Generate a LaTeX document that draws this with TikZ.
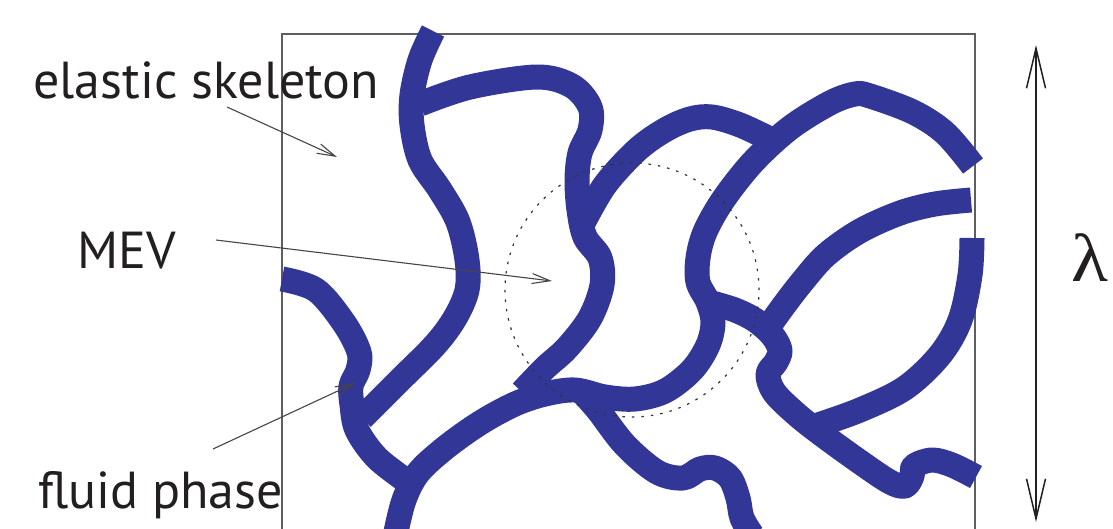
\documentclass[tikz,border=0pt]{standalone}
\usepackage{fontspec}
\newfontfamily\labelfont{PT Sans}
\newfontfamily\greekfont{Liberation Serif}
\usetikzlibrary{arrows.meta}
\definecolor{fibre}{RGB}{50,54,151}
\definecolor{ink}{RGB}{35,31,32}
\definecolor{leadgray}{RGB}{70,70,70}
\definecolor{framegray}{RGB}{95,95,95}
\begin{document}
\begin{tikzpicture}[x=1pt,y=-1pt,
  strand/.style={draw=fibre, line width=25pt, line join=round, line cap=butt},
  leader/.style={draw=leadgray, line width=1.1pt, -{Straight Barb[length=18pt,width=10pt]}},
  lbltext/.style={inner sep=0pt, anchor=base west, text=ink, font=\labelfont\fontsize{52}{60}\selectfont},
  mevring/.style={draw=black!80, line width=1.2pt, dash pattern=on 2.5pt off 7pt}]
\clip (0,0) rectangle (1113,528);
\fill[white] (0,0) rectangle (1113,528);

% periodic cell
\draw[framegray, line width=1.1pt] (282,34) rectangle (975,560);

% elastic skeleton fibres
\draw[strand] plot[smooth, tension=0.55] coordinates {
  (433,31) (420,60) (412,95) (412,125) (420,160) (440,190) (458,222)
  (467,260) (467,290) (455,318) (435,345) (400,380) (362,418)};
\draw[strand] plot[smooth, tension=0.55] coordinates {
  (420,104) (470,87) (537,77) (572,86) (590,107) (590,130) (580,153)
  (577,180) (579,210) (585,237) (600,258) (602,285) (590,318) (567,348)
  (545,368) (522,392)};
\draw[strand] plot[smooth, tension=0.55] coordinates {
  (282,279) (316,290) (344,323) (359,352) (358,370) (351,386) (352,405)
  (357,430) (377,458) (408,482)};
\draw[strand] plot[smooth, tension=0.55] coordinates {
  (396,532) (404,500) (418,473) (445,448) (480,423) (515,404) (545,394)
  (575,390) (605,397) (635,399) (665,391) (692,370) (708,345) (713,322)
  (708,302) (698,282) (698,258) (705,232) (723,200) (753,162) (790,128)
  (830,103) (855,94) (870,96) (913,112) (945,133) (973,166)};
\draw[strand] plot[smooth, tension=0.55] coordinates {
  (582,225) (605,185) (637,150) (665,130) (690,119) (712,117) (740,125)
  (772,140)};
\draw[strand] plot[smooth, tension=0.55] coordinates {
  (582,392) (598,410) (625,445) (657,472) (683,478) (700,469) (715,468)
  (730,478) (738,498) (742,518) (752,535)};
\draw[strand] plot[smooth, tension=0.55] coordinates {
  (712,303) (735,310) (755,320) (772,335) (780,350) (776,362) (768,374)
  (774,392) (795,413) (820,433) (860,462) (890,482) (905,486) (912,476)
  (914,466) (932,460) (952,465) (976,477)};
\draw[strand] plot[smooth, tension=0.55] coordinates {
  (971,200) (935,204) (900,213) (860,231) (826,255) (802,282) (782,308)
  (765,332)};
\draw[strand] plot[smooth, tension=0.55] coordinates {
  (972,238) (970,275) (960,320) (940,355) (905,388) (860,410) (818,425)};

% representative volume element
\coordinate (mev-c) at (632,290);
\draw[mevring] (mev-c) circle[radius=127pt];

% labels and leaders
\node[lbltext] (skel) at (33,98) {elastic skeleton};
\node[lbltext] (mev) at (77,268) {MEV};
\node[lbltext] (fluid) at (38,508) {fluid phase};
\coordinate (skel-tail) at (227,107);
\coordinate (skel-tip) at (337,157);
\coordinate (mev-tail) at (216,240);
\coordinate (mev-tip) at (552,281);
\coordinate (fluid-tail) at (213,449);
\coordinate (fluid-tip) at (355,383);
\draw[leader] (skel-tail) -- (skel-tip);
\draw[leader] (mev-tail) -- (mev-tip);
\draw[leader] (fluid-tail) -- (fluid-tip);

% period length
\coordinate (lam-top) at (1036,45);
\coordinate (lam-bot) at (1036,522);
\draw[ink, line width=1.5pt, {Straight Barb[length=40pt,width=19pt]}-{Straight Barb[length=40pt,width=19pt]}] (lam-top) -- (lam-bot);
\node[inner sep=0pt, anchor=base west, text=ink, font=\greekfont\fontsize{68}{72}\selectfont] (lam) at (1071,281) {\scalebox{1.12}[1]{λ}};
\end{tikzpicture}
\end{document}
